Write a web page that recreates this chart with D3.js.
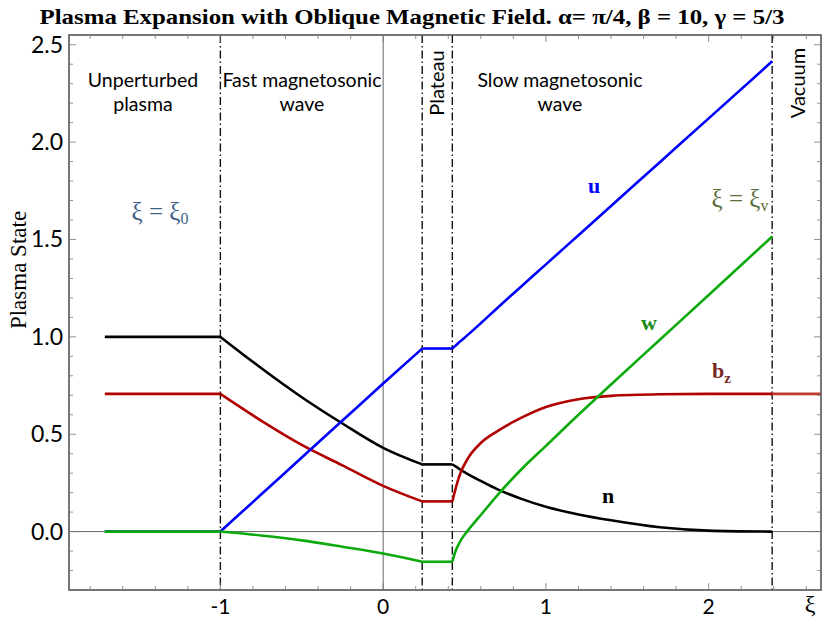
<!DOCTYPE html>
<html>
<head>
<meta charset="utf-8">
<script src="https://cdn.jsdelivr.net/npm/d3@7"></script>
<style>
  html, body { margin: 0; padding: 0; background: #fff; }
  svg { display: block; }
</style>
</head>
<body>
<div id="chart"></div>
<script>
// ---- data ----
const title = "Plasma Expansion with Oblique Magnetic Field. α= π/4, β = 10, γ = 5/3";

// wave boundaries (dash-dot lines)
const boundaries = [-1, 0.24, 0.425, 2.39];

const xiUnperturbed = [-1.71, -1];
const xiFast        = [-1, -0.75, -0.5, -0.25, 0, 0.24];
const xiPlateau     = [0.24, 0.425];
const xiSlow        = [0.425, 0.445, 0.47, 0.52, 0.6, 0.7, 0.85, 1.0, 1.2, 1.4, 1.7, 2.0, 2.39];
const xiVacuum      = [2.39, 2.69];

const nUnperturbed = [1, 1];
const nFast        = [1, 0.84, 0.69, 0.555, 0.43, 0.345];
const nPlateau     = [0.345, 0.345];
const nSlow        = [0.345, 0.335, 0.32, 0.295, 0.26, 0.218, 0.168, 0.127, 0.088, 0.058, 0.022, 0.005, 0];

const bzUnperturbed = [0.707, 0.707];
const bzFast        = [0.707, 0.57, 0.445, 0.34, 0.235, 0.155];
const bzPlateau     = [0.155, 0.155];
const bzSlow        = [0.155, 0.22, 0.29, 0.375, 0.455, 0.515, 0.585, 0.64, 0.68, 0.697, 0.705, 0.707, 0.707];
const bzVacuum      = [0.707, 0.707];

const uUnperturbed = [0, 0];
const uFast        = [0, 0.19, 0.38, 0.57, 0.76, 0.94];
const uPlateau     = [0.94, 0.94];
const uSlow        = [0.94, 0.955, 0.974, 1.01, 1.07, 1.147, 1.26, 1.372, 1.522, 1.672, 1.897, 2.122, 2.415];

const wUnperturbed = [0, 0];
const wFast        = [0, -0.02, -0.045, -0.078, -0.113, -0.155];
const wPlateau     = [-0.155, -0.155];
const wSlow        = [-0.155, -0.10, -0.055, 0.005, 0.085, 0.185, 0.32, 0.44, 0.60, 0.755, 0.985, 1.215, 1.515];

const xMajor = [-1, 0, 1, 2];
const yMajor = [0, 0.5, 1, 1.5, 2, 2.5];

// ---- layout ----
const W = 823, H = 618;
const L = 69, R = 821, T = 35, B = 590;

const x = d3.scaleLinear().domain([-1.93, 2.69]).range([L, R]);
const y = d3.scaleLinear().domain([-0.3, 2.55]).range([B, T]);

const svg = d3.select('#chart').append('svg')
  .attr('width', W).attr('height', H);

svg.append('clipPath').attr('id', 'clip')
  .append('rect').attr('x', L).attr('y', T).attr('width', R - L).attr('height', B - T);

const sans = "Lato, 'Open Sans', sans-serif";
const serif = "'Liberation Serif', 'DejaVu Serif', serif";

// title
svg.append('text')
  .attr('x', 412).attr('y', 24)
  .attr('text-anchor', 'middle')
  .attr('font-family', serif).attr('font-weight', 'bold').attr('font-size', 21)
  .attr('textLength', 745).attr('lengthAdjust', 'spacingAndGlyphs')
  .text(title);

const plot = svg.append('g').attr('clip-path', 'url(#clip)');

// axis lines at zero
plot.append('line')
  .attr('x1', L).attr('x2', R).attr('y1', y(0)).attr('y2', y(0))
  .attr('stroke', '#666').attr('stroke-width', 1);
plot.append('line')
  .attr('x1', x(0)).attr('x2', x(0)).attr('y1', T).attr('y2', B)
  .attr('stroke', '#666').attr('stroke-width', 1);

// boundaries
plot.selectAll('line.bnd')
  .data(boundaries)
  .join('line')
  .attr('class', 'bnd')
  .attr('x1', d => x(d)).attr('x2', d => x(d))
  .attr('y1', T).attr('y2', B)
  .attr('stroke', '#111').attr('stroke-width', 1.4)
  .attr('stroke-dasharray', '8,3,1.5,3');

// curves
const zip = (xs, vs) => xs.map((v, i) => [v, vs[i]]);
const series = [
  { name: 'n', color: '#000000', parts: [[xiUnperturbed, nUnperturbed], [xiFast, nFast], [xiPlateau, nPlateau], [xiSlow, nSlow]] },
  { name: 'bz', color: '#b00000', parts: [[xiUnperturbed, bzUnperturbed], [xiFast, bzFast], [xiPlateau, bzPlateau], [xiSlow, bzSlow], [xiVacuum, bzVacuum, '#c0392b']] },
  { name: 'u', color: '#0000ff', parts: [[xiUnperturbed, uUnperturbed], [xiFast, uFast], [xiPlateau, uPlateau], [xiSlow, uSlow]] },
  { name: 'w', color: '#0caa0c', parts: [[xiUnperturbed, wUnperturbed], [xiFast, wFast], [xiPlateau, wPlateau], [xiSlow, wSlow]] }
];

const line = d3.line()
  .x(d => x(d[0]))
  .y(d => y(d[1]))
  .curve(d3.curveMonotoneX);

series.forEach(s => {
  plot.append('g')
    .selectAll('path')
    .data(s.parts)
    .join('path')
    .attr('d', p => line(zip(p[0], p[1])))
    .attr('fill', 'none')
    .attr('stroke', p => p[2] || s.color)
    .attr('stroke-width', 2.6)
    .attr('stroke-linejoin', 'round');
});

// frame + ticks
const frame = svg.append('g').attr('stroke', '#555').attr('fill', 'none');
frame.append('rect')
  .attr('x', L).attr('y', T).attr('width', R - L).attr('height', B - T)
  .attr('stroke-width', 1.6);

const xMinor = d3.range(-1.8, 2.7, 0.2).filter(v => v < 2.69);
const yMinor = d3.range(-0.2, 2.55, 0.1);

const tickG = svg.append('g').attr('stroke', '#777').attr('stroke-width', 0.8);
xMinor.forEach(v => {
  const major = xMajor.some(m => Math.abs(m - v) < 1e-6);
  const len = major ? 7 : 4;
  tickG.append('line').attr('x1', x(v)).attr('x2', x(v)).attr('y1', B).attr('y2', B - len);
  tickG.append('line').attr('x1', x(v)).attr('x2', x(v)).attr('y1', T).attr('y2', T + len);
});
yMinor.forEach(v => {
  const major = yMajor.some(m => Math.abs(m - v) < 1e-6);
  const len = major ? 7 : 4;
  tickG.append('line').attr('x1', L).attr('x2', L + len).attr('y1', y(v)).attr('y2', y(v));
  tickG.append('line').attr('x1', R).attr('x2', R - len).attr('y1', y(v)).attr('y2', y(v));
});

// tick labels
svg.append('g').selectAll('text')
  .data(xMajor)
  .join('text')
  .attr('x', d => x(d)).attr('y', 614)
  .attr('text-anchor', 'middle')
  .attr('font-family', sans).attr('font-size', 21)
  .text(d => d);

svg.append('g').selectAll('text')
  .data(yMajor)
  .join('text')
  .attr('x', 63).attr('y', d => y(d) + 8)
  .attr('text-anchor', 'end')
  .attr('font-family', sans).attr('font-size', 23)
  .text(d => d.toFixed(1));

// axis titles
svg.append('text')
  .attr('transform', 'translate(26,270) rotate(-90)')
  .attr('text-anchor', 'middle')
  .attr('font-family', serif).attr('font-size', 23)
  .text('Plasma State');

svg.append('text')
  .attr('x', 810).attr('y', 612)
  .attr('text-anchor', 'middle')
  .attr('font-family', serif).attr('font-size', 24)
  .text('ξ');

// region labels
const regions = [
  { lines: ['Unperturbed', 'plasma'], px: 143 },
  { lines: ['Fast magnetosonic', 'wave'], px: 302 },
  { lines: ['Slow magnetosonic', 'wave'], px: 560 }
];
regions.forEach(r => {
  const t = svg.append('text')
    .attr('text-anchor', 'middle')
    .attr('font-family', sans).attr('font-size', 19.5);
  r.lines.forEach((s, i) => {
    t.append('tspan').attr('x', r.px).attr('y', 87 + i * 24).text(s);
  });
});
[['Plateau', 0.33], ['Vacuum', 2.55]].forEach(([s, xi]) => {
  svg.append('text')
    .attr('transform', `translate(${x(xi) + 7},83) rotate(-90)`)
    .attr('text-anchor', 'middle')
    .attr('font-family', sans).attr('font-size', 20)
    .text(s);
});

// xi = xi0 / xi_v labels
function xiLabel(px, py, sub, color) {
  const t = svg.append('text')
    .attr('x', px).attr('y', py)
    .attr('text-anchor', 'middle')
    .attr('font-family', serif).attr('font-size', 25)
    .attr('fill', color);
  t.append('tspan').text('ξ = ξ');
  t.append('tspan').attr('font-size', 16).attr('dy', 4).text(sub);
}
xiLabel(160, 220, '0', '#3f5f8a');
xiLabel(740, 207, 'v', '#5b6d3a');

// curve labels
const curveLabels = [
  { t: 'u', px: 594, py: 193, color: '#0000ff' },
  { t: 'w', px: 649, py: 330, color: '#1a8c1a' },
  { t: 'n', px: 608, py: 503, color: '#000000' }
];
curveLabels.forEach(c => {
  svg.append('text')
    .attr('x', c.px).attr('y', c.py)
    .attr('text-anchor', 'middle')
    .attr('font-family', serif).attr('font-weight', 'bold').attr('font-size', 22)
    .attr('fill', c.color)
    .text(c.t);
});
const bzT = svg.append('text')
  .attr('x', 712).attr('y', 378)
  .attr('font-family', serif).attr('font-weight', 'bold').attr('font-size', 22)
  .attr('fill', '#7a2525');
bzT.append('tspan').text('b');
bzT.append('tspan').attr('font-size', 15).attr('dy', 5).text('z');
</script>
</body>
</html>
